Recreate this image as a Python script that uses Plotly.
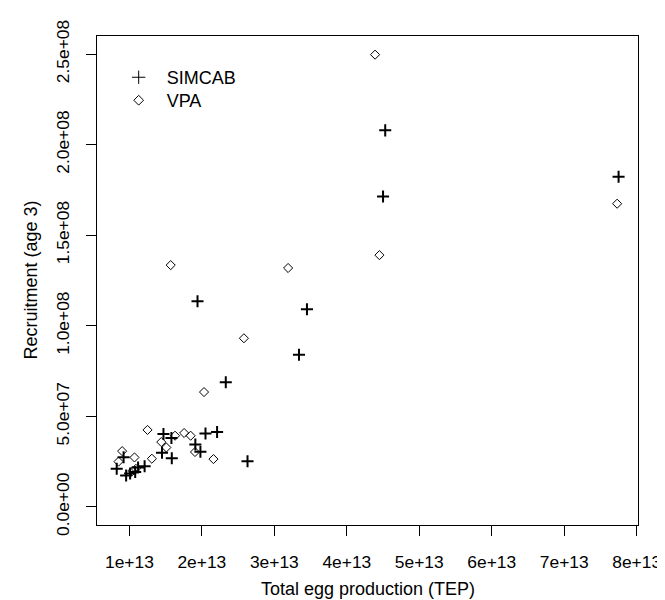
import plotly.graph_objects as go

# Data (TEP in 1e13 units, recruitment in 1e7 units)
simcab_tep = [0.825, 0.92, 0.955, 1.01, 1.08, 1.12, 1.21, 1.45, 1.47, 1.58, 1.585,
              1.91, 1.98, 2.05, 2.21, 2.63, 1.94, 2.33, 3.34, 3.45, 4.50, 4.53, 7.75]
simcab_rec = [2.11, 2.74, 1.73, 1.84, 1.93, 2.17, 2.24, 2.99, 4.03, 3.80, 2.68,
              3.45, 3.05, 4.05, 4.13, 2.52, 11.35, 6.88, 8.40, 10.91, 17.14, 20.79, 18.23]
vpa_tep = [0.90, 0.85, 1.07, 1.04, 1.09, 1.25, 1.31, 1.44, 1.51, 1.63, 1.755,
           1.845, 1.905, 2.16, 2.03, 1.57, 2.58, 3.19, 4.45, 4.39, 7.73]
vpa_rec = [3.08, 2.50, 2.73, 1.98, 2.10, 4.25, 2.66, 3.58, 3.28, 3.93, 4.08,
           3.93, 3.03, 2.64, 6.34, 13.35, 9.31, 13.19, 13.9, 24.97, 16.74]

x_ticks = [1e13, 2e13, 3e13, 4e13, 5e13, 6e13, 7e13, 8e13]
x_tick_labels = ["1e+13", "2e+13", "3e+13", "4e+13", "5e+13", "6e+13", "7e+13", "8e+13"]
y_ticks = [0, 5e7, 1e8, 1.5e8, 2e8, 2.5e8]
y_tick_labels = ["0.0e+00", "5.0e+07", "1.0e+08", "1.5e+08", "2.0e+08", "2.5e+08"]

FONT = "Liberation Sans, Arial, sans-serif"
FS = 18
TFS = 17.4

sx = [v * 1e13 for v in simcab_tep]
sy = [v * 1e7 for v in simcab_rec]
vx = [v * 1e13 for v in vpa_tep]
vy = [v * 1e7 for v in vpa_rec]

fig = go.Figure()
fig.add_trace(go.Scatter(x=vx, y=vy, mode="markers", showlegend=False,
                         marker=dict(symbol="diamond-open", size=7, color="black",
                                     line=dict(width=1, color="black"))))
fig.add_trace(go.Scatter(x=sx, y=sy, mode="markers", showlegend=False,
                         marker=dict(symbol="cross-thin-open", size=8.6, color="black",
                                     line=dict(width=2, color="black"))))
# legend-only entries
fig.add_trace(go.Scatter(x=[None], y=[None], mode="markers", name="SIMCAB",
                         legend="legend",
                         marker=dict(symbol="cross-thin-open", size=9.5, color="black",
                                     line=dict(width=1, color="black"))))
fig.add_trace(go.Scatter(x=[None], y=[None], mode="markers", name="VPA",
                         legend="legend2",
                         marker=dict(symbol="diamond-open", size=7.5, color="black",
                                     line=dict(width=1, color="black"))))

axis_common = dict(showgrid=False, zeroline=False, showline=True, linecolor="black",
                   linewidth=1, mirror=True, ticks="outside", ticklen=10, tickwidth=1,
                   tickcolor="black", tickfont=dict(family=FONT, size=TFS, color="black"),
                   ticklabeloverflow="allow")

fig.update_xaxes(range=[0.553e13, 8.018e13], tickvals=x_ticks, ticktext=x_tick_labels,
                 ticklabelstandoff=11, **axis_common)
fig.update_yaxes(range=[-1e7, 2.6e8], tickvals=y_ticks, ticktext=y_tick_labels,
                 tickangle=-90, ticklabelstandoff=10, **axis_common)

fig.add_annotation(text="Total egg production (TEP)", xref="paper", yref="paper",
                   x=0.5, y=0, yshift=-64, showarrow=False, yanchor="middle",
                   font=dict(family=FONT, size=FS, color="black"))
fig.add_annotation(text="Recruitment (age 3)", xref="paper", yref="paper",
                   x=0, y=0.5, xshift=-67, showarrow=False, xanchor="center",
                   textangle=-90, font=dict(family=FONT, size=FS, color="black"))

leg_common = dict(x=0.0253, xanchor="left", yanchor="middle",
                  bgcolor="rgba(0,0,0,0)", borderwidth=0, itemwidth=46,
                  font=dict(family=FONT, size=FS, color="black"), itemsizing="trace")

fig.update_layout(
    width=665, height=600,
    margin=dict(l=89, r=23, t=23, b=83),
    paper_bgcolor="white", plot_bgcolor="white",
    legend=dict(y=0.915, **leg_common),
    legend2=dict(y=0.868, **leg_common),
)

fig.write_html("out.html")
